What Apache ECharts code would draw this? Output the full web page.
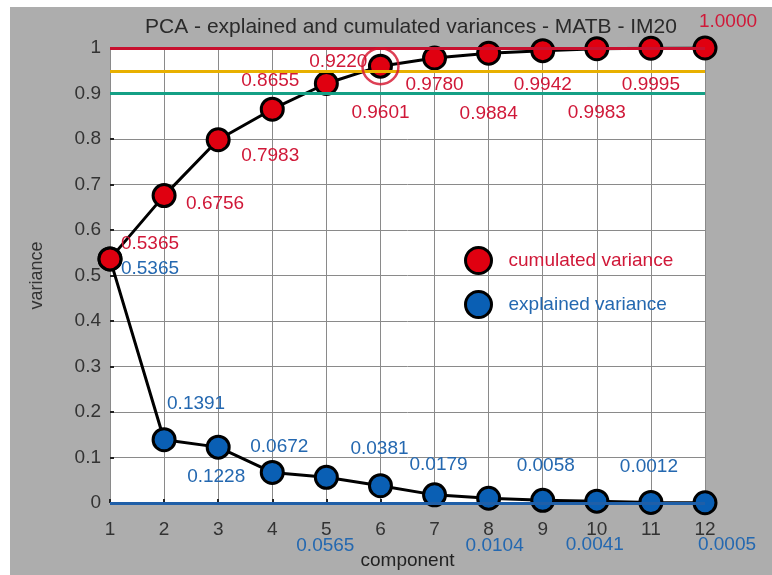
<!DOCTYPE html>
<html>
<head>
<meta charset="utf-8">
<script src="https://cdn.jsdelivr.net/npm/echarts@6/dist/echarts.min.js"></script>
<style>
  html, body { margin: 0; padding: 0; background: #ffffff; }
  #chart { width: 772px; height: 575px; }
</style>
</head>
<body>
<div id="chart"></div>
<script>
// Principal components and their variances
var components = [1, 2, 3, 4, 5, 6, 7, 8, 9, 10, 11, 12];
var cumulatedVariance = [0.5365, 0.6756, 0.7983, 0.8655, 0.9220, 0.9601, 0.9780, 0.9884, 0.9942, 0.9983, 0.9995, 1.0000];
var explainedVariance = [0.5365, 0.1391, 0.1228, 0.0672, 0.0565, 0.0381, 0.0179, 0.0104, 0.0058, 0.0041, 0.0012, 0.0005];
var yTicks = [0, 0.1, 0.2, 0.3, 0.4, 0.5, 0.6, 0.7, 0.8, 0.9, 1];
// reference thresholds drawn as horizontal lines
var thresholds = [1.0, 0.95, 0.9, 0.0];
var thresholdColors = ['#c8102e', '#e8b000', '#14a085', '#1f5fa8'];
// component whose cumulated variance first passes 0.95
var highlightComponent = 6;

// label placement (pixel offsets from each marker centre)
var cumLabelOffsets = [[40, -15], [51, 8], [52, 16], [-2, -28], [12, -22], [0, 47], [0, 27], [0, 60], [0, 34], [0, 64], [0, 37], [23, -26]];
var expLabelOffsets = [[40, 10], [32, -36], [-2, 30], [7, -26], [-1, 68], [-1, -37], [4, -30], [6, 47], [3, -35], [-2, 44], [-2, -36], [22, 42]];

var RED = '#e00010', BLUE = '#0a5fb4';
var RED_TXT = '#d01838', BLUE_TXT = '#2468b0';
var FONT = 'Liberation Sans';

function makeData(vals, offsets, color) {
  return components.map(function (c, i) {
    return {
      value: [c, vals[i]],
      label: { offset: offsets[i], color: color }
    };
  });
}

function markerStyle(fill) {
  return { color: fill, borderColor: '#000', borderWidth: 3 };
}

function valueLabel() {
  return {
    show: true, position: 'inside', align: 'center', verticalAlign: 'middle',
    fontFamily: FONT, fontSize: 19,
    formatter: function (p) { return p.value[1].toFixed(4); }
  };
}

var chart = echarts.init(document.getElementById('chart'), null, { renderer: 'canvas' });

var option = {
  backgroundColor: '#ffffff',
  animation: false,
  graphic: [{
    type: 'rect', z: -10, silent: true,
    shape: { x: 10, y: 7, width: 772, height: 575 },
    style: { fill: '#adadad' }
  }],
  title: {
    text: 'PCA - explained and cumulated variances - MATB - IM20',
    left: 406, top: 12, textAlign: 'center',
    textStyle: { fontFamily: FONT, fontSize: 21, fontWeight: 'normal', color: '#2a2a2a' }
  },
  legend: {
    orient: 'vertical', left: 459, top: 241, itemGap: 15,
    itemWidth: 26, itemHeight: 26, icon: 'circle',
    textStyle: { fontFamily: FONT, fontSize: 19, padding: [0, 0, 0, 12] },
    data: [
      { name: 'cumulated variance', textStyle: { color: RED_TXT },
        itemStyle: markerStyle(RED) },
      { name: 'explained variance', textStyle: { color: BLUE_TXT },
        itemStyle: markerStyle(BLUE) }
    ]
  },
  grid: {
    left: 110, right: 67, top: 48, bottom: 65,
    show: true, backgroundColor: '#ffffff', borderWidth: 0
  },
  xAxis: {
    type: 'value', min: 1, max: 12, interval: 1,
    name: 'component', nameLocation: 'middle', nameGap: 48,
    nameTextStyle: { fontFamily: FONT, fontSize: 19, color: '#222' },
    axisLine: { show: false },
    axisTick: { show: true, inside: true, length: 4, lineStyle: { color: '#222', width: 2 } },
    axisLabel: { fontFamily: FONT, fontSize: 19, color: '#333', margin: 17 },
    splitLine: { lineStyle: { color: '#8a8a8a', width: 1 } }
  },
  yAxis: {
    type: 'value', min: 0, max: 1, interval: 0.1,
    name: 'variance', nameLocation: 'middle', nameGap: 64,
    nameTextStyle: { fontFamily: FONT, fontSize: 18, color: '#333' },
    axisLine: { show: false },
    axisTick: { show: true, inside: true, length: 4, lineStyle: { color: '#222', width: 2 } },
    axisLabel: {
      fontFamily: FONT, fontSize: 19, color: '#333', margin: 9,
      formatter: function (v) {
        var t = yTicks.reduce(function (a, b) { return Math.abs(b - v) < Math.abs(a - v) ? b : a; });
        return String(Math.round(t * 10) / 10);
      }
    },
    splitLine: { lineStyle: { color: '#8a8a8a', width: 1 } }
  },
  series: [
    {
      name: 'thresholds', type: 'line', data: [], z: 1, silent: true,
      markLine: {
        silent: true, symbol: 'none', label: { show: false },
        data: thresholds.map(function (t, i) {
          return { yAxis: t, lineStyle: { color: thresholdColors[i], width: 3, type: 'solid' } };
        })
      }
    },
    {
      name: 'explained variance', type: 'line', z: 3,
      data: makeData(explainedVariance, expLabelOffsets, BLUE_TXT),
      symbol: 'circle', symbolSize: 22,
      itemStyle: markerStyle(BLUE),
      lineStyle: { color: '#000', width: 3 },
      label: valueLabel()
    },
    {
      name: 'cumulated variance', type: 'line', z: 4,
      data: makeData(cumulatedVariance, cumLabelOffsets, RED_TXT),
      symbol: 'circle', symbolSize: 22,
      itemStyle: markerStyle(RED),
      lineStyle: { color: '#000', width: 3 },
      label: valueLabel()
    },
    {
      name: 'highlight', type: 'scatter', z: 5, silent: true,
      data: [[highlightComponent, cumulatedVariance[highlightComponent - 1]]],
      symbol: 'circle', symbolSize: 36,
      itemStyle: { color: 'rgba(0,0,0,0)', borderColor: '#d4102a', borderWidth: 2.5 }
    }
  ]
};

chart.setOption(option);
</script>
</body>
</html>
